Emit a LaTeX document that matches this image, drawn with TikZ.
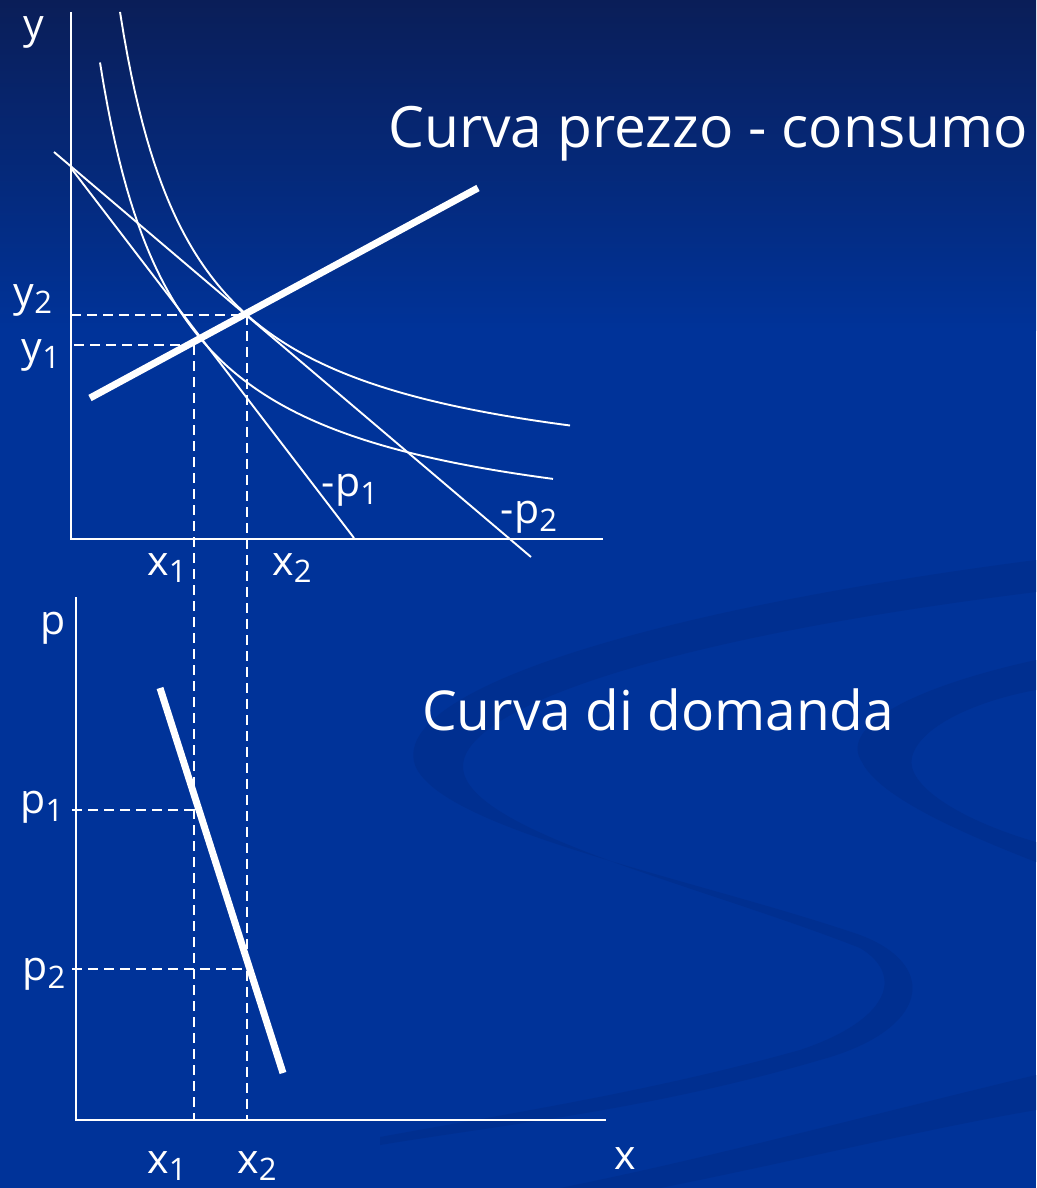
\documentclass[tikz,border=0pt]{standalone}
\usepackage{fontspec}
\setmainfont{Open Sans}
\definecolor{bgblue}{RGB}{0,51,153}
\definecolor{bgtop}{RGB}{10,30,88}
\definecolor{swirl}{RGB}{0,47,144}
\newcommand\subs[1]{\raisebox{-0.36ex}{\fontsize{31}{31}\selectfont #1}}
\tikzset{
  axis/.style={white, line width=2pt},
  thin/.style={white, line width=1.9pt},
  thick/.style={white, line width=7pt},
  guide/.style={white, line width=2pt, dash pattern=on 10pt off 6pt},
  lab/.style={text=white, inner sep=0pt, font=\fontsize{41}{44}\selectfont},
  ttl/.style={text=white, inner sep=0pt, anchor=base west},
}
\begin{document}
\begin{tikzpicture}[x=1pt,y=-1pt]
% background
\useasboundingbox (0,0) rectangle (1036,1188);
\fill[bgblue] (0,0) rectangle (1036,1188);
\shade[top color=bgtop, bottom color=bgblue] (0,0) rectangle (1036,330);
% swirl watermark
\fill[swirl] (1036,560) .. controls (650,610) and (390,690) .. (415,765)
  .. controls (440,830) and (700,880) .. (860,935)
  .. controls (940,965) and (930,1030) .. (820,1060)
  .. controls (650,1110) and (500,1125) .. (380,1145)
  -- (380,1137) .. controls (500,1115) and (650,1092) .. (800,1050)
  .. controls (890,1020) and (905,975) .. (860,948)
  .. controls (700,885) and (460,830) .. (463,765)
  .. controls (466,710) and (650,640) .. (1036,592) -- cycle;
\fill[swirl] (1036,660) .. controls (900,690) and (840,730) .. (862,762)
  .. controls (880,800) and (980,840) .. (1036,862) -- (1036,842)
  .. controls (960,820) and (905,785) .. (912,757)
  .. controls (920,725) and (980,700) .. (1036,690) -- cycle;
\fill[swirl] (1036,1075) .. controls (850,1120) and (700,1160) .. (560,1188)
  -- (660,1188) .. controls (800,1160) and (920,1130) .. (1036,1110) -- cycle;

% ---------- top diagram ----------
\coordinate (Otop) at (71,539);
\coordinate (Ytop) at (71,12);
\coordinate (Xtop) at (603,539);
\draw[axis] (Ytop) -- (Otop) -- (Xtop);
% budget lines
\coordinate (b1a) at (71,168);
\coordinate (b1b) at (354,538);
\coordinate (b2a) at (54,152);
\coordinate (b2b) at (531,557);
\draw[thin] (b1a) -- (b1b);
\draw[thin] (b2a) -- (b2b);
% indifference curves
\draw[thin] plot[domain=100:553, samples=120] (\x, {549.4 - 373.48/((\x-23.3)/100)});
\draw[thin] plot[domain=120:570, samples=120] (\x, {494.7 - 363.52/((\x-44.7)/100)});
% optimum points
\coordinate (E1) at (194,345);
\coordinate (E2) at (247,315);
\coordinate (Y1) at (74,345);
\coordinate (Y2) at (71,315);
\coordinate (X1b) at (194,1120);
\coordinate (X2b) at (247,1120);
\draw[guide] (Y2) -- (E2);
\draw[guide] (Y1) -- (E1);
\draw[guide] (E1) -- (X1b);
\draw[guide] (E2) -- (X2b);
% price-consumption curve
\coordinate (pc1) at (90,398);
\coordinate (pc2) at (478,188);
\draw[thick] (pc1) -- (pc2);
% labels
\node[lab] (ly) at (34,32) {y};
\node[lab] (ly2) at (33,300) {y\subs{2}};
\node[lab] (ly1) at (41,355) {y\subs{1}};
\node[lab] (lx1) at (167,568) {x\subs{1}};
\node[lab] (lx2) at (292,568) {x\subs{2}};
\node[lab] (lp1) at (350,490) {-p\subs{1}};
\node[lab] (lp2) at (529,517) {-p\subs{2}};
\node[ttl, font=\fontsize{57}{62}\selectfont] (t1) at (388,147) {Curva prezzo - consumo};

% ---------- bottom diagram ----------
\coordinate (Obot) at (76,1120);
\coordinate (Pbot) at (76,597);
\coordinate (Xbot) at (606,1120);
\draw[axis] (Pbot) -- (Obot) -- (Xbot);
\coordinate (P1a) at (72,810);
\coordinate (P1b) at (194,810);
\coordinate (P2a) at (72,969);
\coordinate (P2b) at (247,969);
\draw[guide] (P1a) -- (P1b);
\draw[guide] (P2a) -- (P2b);
\coordinate (d1) at (160,688);
\coordinate (d2) at (283,1073);
\draw[thick] (d1) -- (d2);
\node[lab] (lp) at (53,628) {p};
\node[lab] (lpp1) at (42,807) {p\subs{1}};
\node[lab] (lpp2) at (44,974) {p\subs{2}};
\node[lab] (lbx1) at (167,1166) {x\subs{1}};
\node[lab] (lbx2) at (257,1166) {x\subs{2}};
\node[lab] (lbx) at (625,1159) {x};
\node[ttl, font=\fontsize{55}{60}\selectfont] (t2) at (422,730) {Curva di domanda};
\end{tikzpicture}
\end{document}
